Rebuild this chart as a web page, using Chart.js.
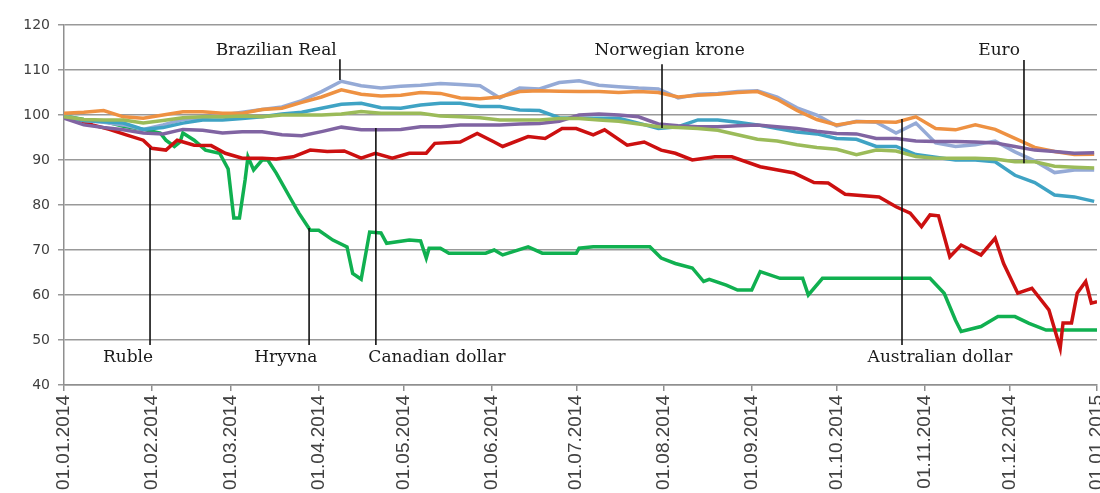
<!DOCTYPE html>
<html lang="en">
<head>
    <meta charset="UTF-8">
    <title>Currencies against USD, 2014</title>
    <script src="https://cdn.jsdelivr.net/npm/chart.js"></script>
    <style>
        body { margin: 0; background: #fff; }
    </style>
</head>
<body>
    <canvas id="chartFx" width="1100" height="493"></canvas>

    <script>
        // month start ticks (day of year) and their labels
        const monthDays = [0, 31, 59, 90, 120, 151, 181, 212, 243, 273, 304, 334, 365];
        const monthLabels = ['01.01.2014', '01.02.2014', '01.03.2014', '01.04.2014', '01.05.2014', '01.06.2014',
            '01.07.2014', '01.08.2014', '01.09.2014', '01.10.2014', '01.11.2014', '01.12.2014', '01.01.2015'];

        // weekly points for the five majors
        const weekDays = [0, 7, 14, 21, 28, 35, 42, 49, 56, 63, 70, 77, 84, 91, 98, 105, 112, 119, 126, 133, 140,
            147, 154, 161, 168, 175, 182, 189, 196, 203, 210, 217, 224, 231, 238, 245, 252, 259, 266, 273, 280,
            287, 294, 301, 308, 315, 322, 329, 336, 343, 350, 357, 364];

        const euro = [99.6, 99.0, 98.9, 98.9, 98.2, 98.8, 99.4, 99.6, 99.6, 99.8, 99.6, 100.0, 100.0, 100.0, 100.2,
            100.8, 100.4, 100.4, 100.4, 99.8, 99.6, 99.4, 98.9, 98.9, 98.9, 99.2, 99.2, 98.9, 98.6, 98.0, 97.4,
            97.2, 97.0, 96.6, 95.6, 94.6, 94.2, 93.4, 92.8, 92.4, 91.2, 92.2, 92.0, 90.8, 90.4, 90.4, 90.4, 90.2,
            89.6, 89.6, 88.6, 88.4, 88.2];
        const canadian = [99.3, 97.8, 97.2, 96.7, 96.0, 95.8, 96.8, 96.6, 96.0, 96.3, 96.3, 95.6, 95.4, 96.3, 97.3,
            96.7, 96.7, 96.8, 97.4, 97.4, 97.8, 97.8, 97.8, 98.0, 98.1, 98.6, 100.0, 100.2, 100.0, 99.6, 98.0,
            97.6, 97.4, 97.4, 97.6, 97.8, 97.4, 97.0, 96.4, 95.9, 95.8, 94.8, 94.8, 94.2, 94.1, 94.1, 94.0, 93.8,
            93.0, 92.2, 91.9, 91.5, 91.6];
        const norwegian = [99.6, 98.8, 98.5, 98.2, 96.8, 97.2, 98.2, 98.9, 98.9, 99.2, 99.6, 100.2, 100.6, 101.5,
            102.4, 102.6, 101.6, 101.5, 102.2, 102.6, 102.6, 101.9, 101.9, 101.1, 101.0, 99.4, 99.3, 99.3, 99.3,
            98.2, 97.0, 97.4, 98.9, 98.9, 98.4, 97.8, 97.0, 96.2, 95.8, 94.8, 94.6, 93.0, 93.0, 91.2, 90.6, 90.0,
            90.0, 89.6, 86.6, 85.0, 82.2, 81.8, 80.8];
        const australian = [100.4, 100.6, 101.0, 99.6, 99.3, 100.0, 100.7, 100.7, 100.4, 100.4, 101.2, 101.5, 102.8,
            104.0, 105.6, 104.6, 104.2, 104.4, 105.0, 104.8, 103.8, 103.6, 104.0, 105.2, 105.4, 105.3, 105.2,
            105.2, 105.0, 105.2, 105.0, 104.0, 104.4, 104.6, 105.0, 105.2, 103.5, 101.0, 99.0, 97.8, 98.5, 98.5,
            98.4, 99.6, 97.0, 96.7, 97.8, 96.8, 94.8, 92.8, 91.9, 91.2, 91.3];
        const brazilian = [99.8, 98.8, 98.4, 97.8, 96.8, 97.8, 99.0, 99.4, 100.0, 100.6, 101.2, 101.8, 103.2, 105.2,
            107.5, 106.5, 106.0, 106.4, 106.6, 107.0, 106.8, 106.5, 103.8, 106.0, 105.8, 107.2, 107.6, 106.6,
            106.3, 106.0, 105.8, 103.8, 104.6, 104.8, 105.2, 105.4, 104.0, 101.6, 100.0, 97.6, 98.6, 98.4, 96.0,
            98.2, 93.8, 93.0, 93.4, 94.2, 91.8, 89.8, 87.2, 87.8, 87.8];

        // ruble and hryvna move in jumps, so they get their own days
        const rubleDays = [0, 5, 10, 16, 22, 28, 31, 36, 40, 46, 52, 57, 63, 70, 75, 81, 87, 93, 99, 105, 110, 116,
            122, 128, 131, 140, 146, 152, 155, 164, 170, 176, 181, 187, 191, 199, 205, 211, 216, 222, 230, 236,
            246, 258, 265, 270, 276, 288, 294, 299, 303, 306, 309, 313, 317, 324, 329, 332, 337, 342, 348, 352,
            353, 356, 358, 361, 363, 365];
        const ruble = [99.6, 99.0, 97.8, 96.8, 95.6, 94.4, 92.6, 92.2, 94.4, 93.3, 93.2, 91.5, 90.4, 90.4, 90.2,
            90.7, 92.2, 91.9, 92.0, 90.4, 91.5, 90.4, 91.5, 91.5, 93.7, 94.0, 95.9, 94.0, 93.0, 95.2, 94.8, 97.0,
            97.0, 95.6, 96.7, 93.3, 94.0, 92.2, 91.5, 90.0, 90.7, 90.7, 88.5, 87.1, 85.0, 84.9, 82.4, 81.8, 79.6,
            78.2, 75.2, 77.8, 77.6, 68.5, 71.1, 68.9, 72.6, 67.0, 60.4, 61.5, 56.7, 48.2, 53.8, 53.8, 60.4, 63.0,
            58.2, 58.5];

        const hryvnaDays = [0, 7, 14, 21, 28, 34, 36, 39, 41, 42, 46, 50, 55, 58, 60, 62, 64, 65, 67, 70, 72, 75,
            80, 83, 87, 90, 95, 100, 102, 105, 108, 112, 114, 122, 126, 128, 129, 133, 136, 149, 152, 155, 164,
            169, 181, 182, 187, 207, 211, 216, 222, 226, 228, 234, 238, 243, 246, 253, 261, 263, 268, 306, 311,
            315, 317, 324, 330, 336, 341, 347, 365];
        const hryvna = [99.8, 99.0, 98.6, 97.5, 96.8, 96.0, 94.4, 93.0, 94.0, 96.0, 94.4, 92.2, 91.5, 88.0, 77.1,
            77.1, 85.6, 90.7, 87.8, 90.0, 90.0, 87.1, 81.5, 78.2, 74.4, 74.4, 72.2, 70.7, 64.8, 63.5, 74.0, 73.8,
            71.5, 72.2, 72.0, 68.2, 70.4, 70.4, 69.3, 69.3, 70.0, 68.9, 70.7, 69.3, 69.3, 70.4, 70.7, 70.7, 68.2,
            67.0, 66.0, 63.0, 63.5, 62.2, 61.1, 61.1, 65.2, 63.7, 63.7, 60.0, 63.7, 63.7, 60.4, 54.4, 51.9, 53.0,
            55.2, 55.2, 53.7, 52.2, 52.2];

        function toPoints(days, values) {
            return days.map((d, i) => ({ x: d, y: values[i] }));
        }

        // callouts: text position and leader line, in data units
        const notes = [
            { text: 'Brazilian Real', tx: 75, ty: 114.4, lx: 97.5, ly1: 112.4, ly2: 107.8 },
            { text: 'Norwegian krone', tx: 214, ty: 114.4, lx: 211.3, ly1: 111.3, ly2: 97.1 },
            { text: 'Euro', tx: 330.4, ty: 114.4, lx: 339.2, ly1: 112.2, ly2: 89.3 },
            { text: 'Ruble', tx: 22.6, ty: 46, lx: 30.4, ly1: 92.7, ly2: 48.9 },
            { text: 'Hryvna', tx: 78.4, ty: 46, lx: 86.6, ly1: 74.9, ly2: 48.9 },
            { text: 'Canadian dollar', tx: 131.8, ty: 46, lx: 110.2, ly1: 97.1, ly2: 48.9 },
            { text: 'Australian dollar', tx: 309.5, ty: 46, lx: 296.1, ly1: 99.1, ly2: 48.9 }
        ];

        const calloutPlugin = {
            id: 'callouts',
            afterDatasetsDraw(chart) {
                const ctx = chart.ctx;
                const xs = chart.scales.x;
                const ys = chart.scales.y;
                ctx.save();
                ctx.strokeStyle = '#111';
                ctx.lineWidth = 1.6;
                ctx.fillStyle = '#1a1a1a';
                ctx.font = '17px "DejaVu Serif"';
                ctx.textAlign = 'center';
                ctx.textBaseline = 'middle';
                notes.forEach(n => {
                    const lx = xs.getPixelForValue(n.lx);
                    ctx.beginPath();
                    ctx.moveTo(lx, ys.getPixelForValue(n.ly1));
                    ctx.lineTo(lx, ys.getPixelForValue(n.ly2));
                    ctx.stroke();
                    ctx.fillText(n.text, xs.getPixelForValue(n.tx), ys.getPixelForValue(n.ty));
                });
                ctx.restore();
            }
        };

        function series(label, points, color) {
            return {
                label: label,
                data: points,
                borderColor: color,
                backgroundColor: color,
                borderWidth: 3.5,
                pointRadius: 0,
                tension: 0,
                fill: false
            };
        }

        const ctx = document.getElementById('chartFx').getContext('2d');
        new Chart(ctx, {
            type: 'line',
            data: {
                datasets: [
                    series('Euro', toPoints(weekDays, euro), '#9BBB59'),
                    series('Canadian dollar', toPoints(weekDays, canadian), '#8064A2'),
                    series('Norwegian krone', toPoints(weekDays, norwegian), '#3FA3C4'),
                    series('Australian dollar', toPoints(weekDays, australian), '#EE9142'),
                    series('Brazilian Real', toPoints(weekDays, brazilian), '#95AAD6'),
                    series('Ruble', toPoints(rubleDays, ruble), '#CC1010'),
                    series('Hryvna', toPoints(hryvnaDays, hryvna), '#10B050')
                ]
            },
            options: {
                responsive: false,
                animation: false,
                layout: { padding: { top: 25, right: 3, left: 0, bottom: 0 } },
                plugins: {
                    legend: { display: false },
                    tooltip: { enabled: false }
                },
                scales: {
                    x: {
                        type: 'linear',
                        min: 0,
                        max: 365,
                        afterBuildTicks: scale => {
                            scale.ticks = monthDays.map(v => ({ value: v }));
                        },
                        afterFit: scale => {
                            scale.height = 108;
                            scale.paddingLeft = 0;
                            scale.paddingRight = 0;
                        },
                        ticks: {
                            minRotation: 90,
                            maxRotation: 90,
                            padding: 4,
                            color: '#404040',
                            font: { family: '"Liberation Sans"', size: 19 },
                            callback: v => monthLabels[monthDays.indexOf(v)]
                        },
                        grid: { drawOnChartArea: false, drawTicks: true, tickLength: 6, color: '#8f8f8f', lineWidth: 1.5 },
                        border: { color: '#8f8f8f', width: 1.5 }
                    },
                    y: {
                        min: 40,
                        max: 120,
                        afterFit: scale => { scale.width = 64; },
                        ticks: {
                            stepSize: 10,
                            padding: 8,
                            color: '#404040',
                            font: { family: '"DejaVu Sans"', size: 14 }
                        },
                        grid: { color: '#999', lineWidth: 1.5, tickLength: 6 },
                        border: { color: '#8f8f8f', width: 1.5 }
                    }
                }
            },
            plugins: [calloutPlugin]
        });
    </script>
</body>
</html>
